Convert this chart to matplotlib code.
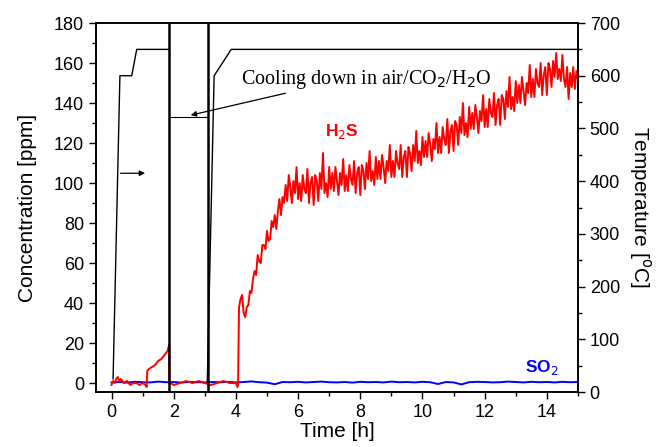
import numpy as np
import matplotlib.pyplot as plt
from matplotlib.ticker import MultipleLocator

plt.rcParams['font.family'] = ['Liberation Sans', 'DejaVu Sans']

# H2S before the jump (time [h], ppm)
h2s_t0 = [0.0, 0.05, 0.1, 0.15, 0.2, 0.25, 0.3, 0.4, 0.5, 0.6, 0.7, 0.8, 0.9, 1.0, 1.1, 1.13,
          1.15, 1.2, 1.3, 1.4, 1.5, 1.6, 1.7, 1.8, 1.85,
          1.86, 1.9, 2.0, 2.2, 2.4, 2.6, 2.8, 3.0, 3.2, 3.4, 3.6, 3.8, 4.0, 4.05]
h2s_v0 = [-1, 1, 0, 2, 3, 1, 2, 0, 1, -1, 0, 0, -1, 0, -1, -2,
          6, 7, 8, 9, 11, 12, 14, 16, 19,
          0, 0, -1, 0, 1, 0, 1, 0, -1, 0, 1, 0, 0, -2]

# H2S from 4.10 h to 15.00 h, every 0.05 h
h2s_v1 = [38, 42, 44, 35, 33, 38, 39, 46, 45, 52,
          56, 54, 64, 61, 60, 69, 69, 67, 76, 71,
          72, 81, 78, 84, 77, 86, 92, 84, 93, 90,
          99, 91, 104, 98, 90, 101, 95, 108, 92, 100,
          91, 104, 97, 95, 107, 90, 100, 103, 89, 104,
          101, 91, 105, 97, 115, 95, 100, 93, 108, 97,
          105, 96, 108, 101, 94, 105, 99, 112, 96, 104,
          96, 109, 102, 99, 111, 95, 105, 108, 94, 109,
          106, 97, 110, 102, 116, 101, 106, 99, 113, 102,
          111, 102, 114, 108, 100, 111, 106, 119, 103, 111,
          103, 116, 110, 107, 119, 103, 113, 116, 103, 118,
          115, 106, 119, 111, 126, 110, 116, 109, 123, 113,
          121, 113, 125, 119, 111, 122, 117, 130, 115, 123,
          115, 128, 122, 119, 132, 115, 126, 129, 116, 131,
          129, 119, 133, 125, 140, 124, 130, 123, 138, 127,
          135, 127, 139, 133, 125, 136, 131, 144, 128, 137,
          128, 142, 135, 133, 145, 129, 139, 142, 129, 144,
          142, 132, 146, 138, 153, 137, 143, 136, 151, 140,
          149, 140, 153, 146, 139, 150, 145, 159, 143, 152,
          143, 157, 150, 148, 160, 144, 154, 158, 144, 160,
          157, 148, 161, 153, 165, 152, 157, 151, 164, 152,
          148, 158, 142, 155, 148, 158, 147, 156, 152]
h2s_t1 = np.linspace(4.10, 15.0, len(h2s_v1))

# SO2, every 0.25 h
so2_v = [0.3, 0.5, 0.2, 0.6, 0.4, 0.3, 0.7, 0.4, 0.5, 0.2, 0.6, 0.4, 0.3, 0.5, 0.4, 0.6,
         0.3, 0.5, 0.8, 0.4, 0.2, -0.6, 0.5, 0.4, 0.6, 0.3, 0.5, 0.7, 0.4, 0.3, 0.5, 0.2,
         0.6, 0.4, 0.5, 0.3, 0.7, 0.4, 0.5, 0.3, 0.6, 0.4, -0.5, 0.5, 0.3, -0.7, 0.4, 0.6,
         0.5, 0.3, 0.4, 0.7, 0.5, 0.3, 0.6, 0.4, 0.5, 0.3, 0.6, 0.4, 0.5]
so2_t = np.linspace(0.0, 15.0, len(so2_v))

# furnace temperature (right axis)
temp_t1 = [0.05, 0.27, 0.65, 0.81, 1.85]
temp_v1 = [25, 600, 600, 650, 650]
temp_t2 = [3.08, 3.3, 3.85, 15.0]
temp_v2 = [20, 600, 650, 650]

cool_start = 1.85
cool_end = 3.1
cool_level = 521

fig = plt.figure(figsize=(6.56, 4.47), dpi=100)
ax = fig.add_axes([0.1463, 0.123, 0.881 - 0.1463, 0.9485 - 0.123])
ax2 = ax.twinx()

ax.plot(so2_t, so2_v, color='blue', lw=1.4, zorder=2)
ax.plot(h2s_t0, h2s_v0, color='red', lw=1.4, zorder=3)
ax.plot(np.concatenate([[4.07], h2s_t1]), np.concatenate([[-1], h2s_v1]), color='red', lw=1.4, zorder=3)

ax2.plot(temp_t1, temp_v1, color='black', lw=1.0)
ax2.plot(temp_t2, temp_v2, color='black', lw=1.0)
ax2.axvline(cool_start, color='black', lw=1.8)
ax2.axvline(cool_end, color='black', lw=1.8)
ax2.plot([cool_start, cool_end], [cool_level, cool_level], color='black', lw=0.8)

ax2.annotate('', xy=(2.46, 524), xytext=(5.68, 568),
             arrowprops=dict(arrowstyle='-|>', color='black', lw=0.9, mutation_scale=8))
ax2.annotate('', xy=(1.17, 415), xytext=(0.2, 415),
             arrowprops=dict(arrowstyle='-|>', color='black', lw=0.9, mutation_scale=8))
ax2.text(4.17, 592, 'Cooling down in air/CO$_2$/H$_2$O', fontsize=14.5,
         family='Liberation Serif', va='center', ha='left')

ax.text(6.86, 126, 'H$_2$S', color='red', fontsize=12.5, fontweight='bold', va='center')
ax.text(13.3, 8, 'SO$_2$', color='blue', fontsize=12.5, fontweight='bold', va='center')

ax.set_xlim(-0.5, 15)
ax.set_ylim(-4.5, 180)
ax2.set_ylim(0, 700)

ax.xaxis.set_major_locator(MultipleLocator(2))
ax.xaxis.set_minor_locator(MultipleLocator(1))
ax.yaxis.set_major_locator(MultipleLocator(20))
ax.yaxis.set_minor_locator(MultipleLocator(10))
ax2.yaxis.set_major_locator(MultipleLocator(100))
ax2.yaxis.set_minor_locator(MultipleLocator(50))

for a in (ax, ax2):
    a.tick_params(which='major', length=5, width=1, labelsize=13)
    a.tick_params(which='minor', length=3, width=1)
    for s in a.spines.values():
        s.set_linewidth(1.2)

ax.set_xlabel('Time [h]', fontsize=15, labelpad=1)
ax.set_ylabel('Concentration [ppm]', fontsize=15, labelpad=12)
ax2.set_ylabel('Temperature [$^{\\rm o}$C]', fontsize=15, rotation=270, labelpad=24)

fig.savefig('out.png', dpi=100)
